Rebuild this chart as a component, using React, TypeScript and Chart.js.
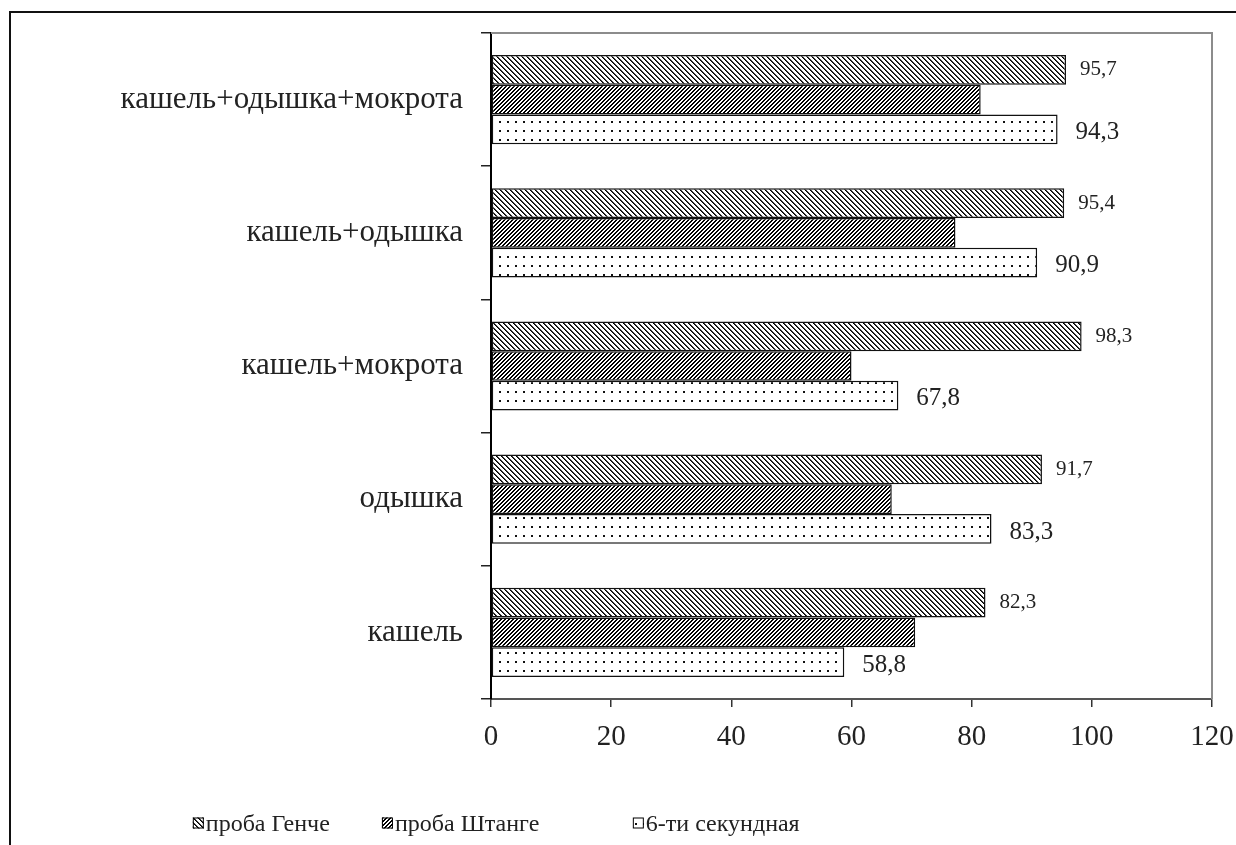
import React, { useEffect, useRef } from 'react';
import { Chart, registerables } from 'chart.js';

Chart.register(...registerables);

// Categories, top to bottom
const categories = [
  'кашель+одышка+мокрота',
  'кашель+одышка',
  'кашель+мокрота',
  'одышка',
  'кашель',
];

const seriesNames = ['проба Генче', 'проба Штанге', '6-ти секундная'];

const gencheValues = [95.7, 95.4, 98.3, 91.7, 82.3];
const shtangeValues = [81.5, 77.3, 60.0, 66.7, 70.6];
const sixSecondValues = [94.3, 90.9, 67.8, 83.3, 58.8];

const xTickValues = [0, 20, 40, 60, 80, 100, 120];

const SERIF = '"Liberation Serif", "Times New Roman", serif';

type PatternKind = 'back' | 'fwd' | 'dots';

function makeTile(kind: PatternKind): HTMLCanvasElement {
  const tile = document.createElement('canvas');
  const c = tile.getContext('2d')!;
  if (kind === 'back') {
    const n = 5;
    tile.width = n;
    tile.height = n;
    c.fillStyle = '#fff';
    c.fillRect(0, 0, n, n);
    for (let y = 0; y < n; y++) {
      c.fillStyle = '#000';
      c.fillRect(y % n, y, 1, 1);
      c.fillStyle = '#444';
      c.fillRect((y + 1) % n, y, 1, 1);
    }
  } else if (kind === 'fwd') {
    const n = 4;
    tile.width = n;
    tile.height = n;
    c.fillStyle = '#fff';
    c.fillRect(0, 0, n, n);
    c.fillStyle = '#000';
    for (let y = 0; y < n; y++) {
      c.fillRect((n - 1 - y + n) % n, y, 1, 1);
      c.fillRect((n - y + n) % n, y, 1, 1);
    }
  } else {
    tile.width = 8;
    tile.height = 9;
    c.fillStyle = '#fff';
    c.fillRect(0, 0, 8, 9);
    c.fillStyle = '#111';
    c.fillRect(3, 4, 2, 2);
  }
  return tile;
}

const fmt = (v: number) => v.toFixed(1).replace('.', ',');

// Value captions beside the first and third series
const valueLabels = {
  id: 'valueLabels',
  afterDatasetsDraw(chart: any) {
    const ctx = chart.ctx;
    const specs = [
      { ds: 0, size: 21, dx: 14, dy: 0 },
      { ds: 2, size: 25, dx: 18, dy: 3 },
    ];
    ctx.save();
    ctx.fillStyle = '#222';
    ctx.textAlign = 'left';
    ctx.textBaseline = 'middle';
    specs.forEach((s) => {
      const meta = chart.getDatasetMeta(s.ds);
      const data = chart.data.datasets[s.ds].data as number[];
      ctx.font = `${s.size}px ${SERIF}`;
      meta.data.forEach((bar: any, i: number) => {
        ctx.fillText(fmt(data[i]), bar.x + s.dx, bar.y + s.dy);
      });
    });
    ctx.restore();
  },
};

// Grey frame along the top and right of the plot area
const plotFrame = {
  id: 'plotFrame',
  beforeDatasetsDraw(chart: any) {
    const { ctx, chartArea } = chart;
    ctx.save();
    ctx.strokeStyle = '#8c8c8c';
    ctx.lineWidth = 2;
    ctx.beginPath();
    ctx.moveTo(chartArea.left, chartArea.top);
    ctx.lineTo(chartArea.right, chartArea.top);
    ctx.lineTo(chartArea.right, chartArea.bottom);
    ctx.stroke();
    ctx.restore();
  },
};

// Legend row along the bottom edge
const bottomLegend = {
  id: 'bottomLegend',
  afterDraw(chart: any) {
    const ctx = chart.ctx;
    const w = chart.width;
    const h = chart.height;
    const anchors = [0.156, 0.309, 0.512];
    const y = h - 20;
    ctx.save();
    ctx.font = `24px ${SERIF}`;
    ctx.textBaseline = 'middle';
    ctx.textAlign = 'left';
    chart.data.datasets.forEach((ds: any, i: number) => {
      const x = w * anchors[i];
      const box = 11;
      const by = y - box / 2 - 2;
      ctx.fillStyle = ds.backgroundColor;
      ctx.fillRect(x, by, box, box);
      ctx.strokeStyle = '#000';
      ctx.lineWidth = 1;
      ctx.strokeRect(x + 0.5, by + 0.5, box - 1, box - 1);
      ctx.fillStyle = '#222';
      ctx.fillText(ds.label, x + box + 2, y);
    });
    ctx.restore();
  },
};

export default function App() {
  const canvasRef = useRef<HTMLCanvasElement | null>(null);

  useEffect(() => {
    const canvas = canvasRef.current!;
    const ctx = canvas.getContext('2d')!;
    const pBack = ctx.createPattern(makeTile('back'), 'repeat')!;
    const pFwd = ctx.createPattern(makeTile('fwd'), 'repeat')!;
    const pDots = ctx.createPattern(makeTile('dots'), 'repeat')!;

    const common = {
      borderColor: '#111',
      borderWidth: 1.5,
      borderSkipped: false as const,
      categoryPercentage: 0.67,
      barPercentage: 1.0,
    };

    const chart = new Chart(canvas, {
      type: 'bar',
      data: {
        labels: categories,
        datasets: [
          { label: seriesNames[0], data: gencheValues, backgroundColor: pBack as any, ...common },
          { label: seriesNames[1], data: shtangeValues, backgroundColor: pFwd as any, ...common },
          { label: seriesNames[2], data: sixSecondValues, backgroundColor: pDots as any, ...common },
        ],
      },
      options: {
        indexAxis: 'y',
        animation: false,
        responsive: false,
        maintainAspectRatio: false,
        layout: { padding: { top: 33, right: 24, left: 0, bottom: 0 } },
        plugins: {
          legend: { display: false },
          tooltip: { enabled: false },
        },
        scales: {
          x: {
            type: 'linear',
            min: 0,
            max: 120,
            afterBuildTicks: (scale: any) => {
              scale.ticks = xTickValues.map((v) => ({ value: v }));
            },
            afterFit: (scale: any) => {
              scale.height = 146;
              scale.paddingLeft = 0;
              scale.paddingRight = 0;
            },
            grid: {
              drawOnChartArea: false,
              drawTicks: true,
              tickLength: 8,
              color: '#333',
              lineWidth: 1.5,
            },
            border: { display: true, color: '#555', width: 2 },
            ticks: {
              color: '#222',
              font: { family: SERIF, size: 29 },
              padding: 13,
              maxRotation: 0,
            },
          },
          y: {
            type: 'category',
            afterFit: (scale: any) => {
              scale.width = 491;
              scale.paddingTop = 0;
              scale.paddingBottom = 0;
            },
            grid: {
              offset: true,
              drawOnChartArea: false,
              drawTicks: true,
              tickLength: 10,
              color: '#222',
              lineWidth: 1.5,
            },
            border: { display: true, color: '#000', width: 2 },
            ticks: {
              color: '#222',
              font: { family: SERIF, size: 31 },
              padding: 18,
            },
          },
        },
      },
      plugins: [plotFrame, valueLabels, bottomLegend],
    });
    return () => chart.destroy();
  }, []);

  return (
    <div style={{ position: 'fixed', left: 0, top: 0, width: 1236, height: 845, background: '#fff', overflow: 'hidden' }}>
      <div
        style={{
          position: 'absolute',
          left: 9,
          top: 11,
          width: 1300,
          height: 900,
          borderLeft: '2px solid #111',
          borderTop: '2px solid #111',
        }}
      />
      <canvas
        ref={canvasRef}
        width={1236}
        height={845}
        style={{ position: 'absolute', left: 0, top: 0, width: 1236, height: 845 }}
      />
    </div>
  );
}
